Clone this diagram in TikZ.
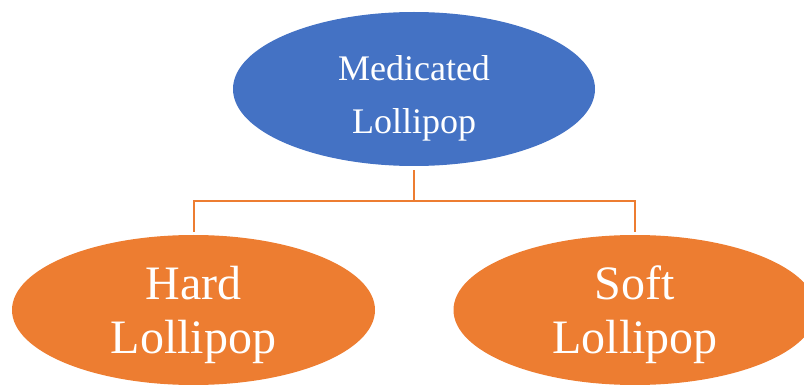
\documentclass[tikz,border=0pt]{standalone}
\usepackage{fontspec}
\setmainfont{Liberation Serif}
\usetikzlibrary{shapes.geometric}
\definecolor{topblue}{HTML}{4472C4}
\definecolor{leaforange}{HTML}{ED7D31}
\tikzset{
  oval/.style={ellipse, draw=none, inner sep=0pt},
  txt/.style={text=white, align=center, inner sep=0pt},
  conn/.style={draw=leaforange, line width=2pt}
}
\begin{document}
\begin{tikzpicture}[x=1pt, y=-1pt]
\useasboundingbox (0,0) rectangle (804,385);
\clip (0,0) rectangle (804,385);
\node[oval, fill=topblue, minimum width=362pt, minimum height=154pt] (top) at (414,89) {};
\node[oval, fill=leaforange, minimum width=363pt, minimum height=150pt] (hard) at (193.5,310) {};
\node[oval, fill=leaforange, minimum width=363pt, minimum height=150pt] (soft) at (635,310) {};
\node[txt, font=\fontsize{36}{53}\selectfont] (toptxt) at ([yshift=-9pt]top.center) {Medicated\\Lollipop};
\node[txt, font=\fontsize{48}{54}\selectfont] (hardtxt) at ([yshift=-5pt]hard.center) {Hard\\Lollipop};
\node[txt, font=\fontsize{48}{54}\selectfont] (softtxt) at ([yshift=-5pt]soft.center) {Soft\\Lollipop};
\coordinate (j) at (414,201);
\draw[conn] ([yshift=-4pt]top.south) -- (j);
\draw[conn] ([yshift=3pt]hard.north) |- (j) -| ([yshift=3pt]soft.north);
\end{tikzpicture}
\end{document}
